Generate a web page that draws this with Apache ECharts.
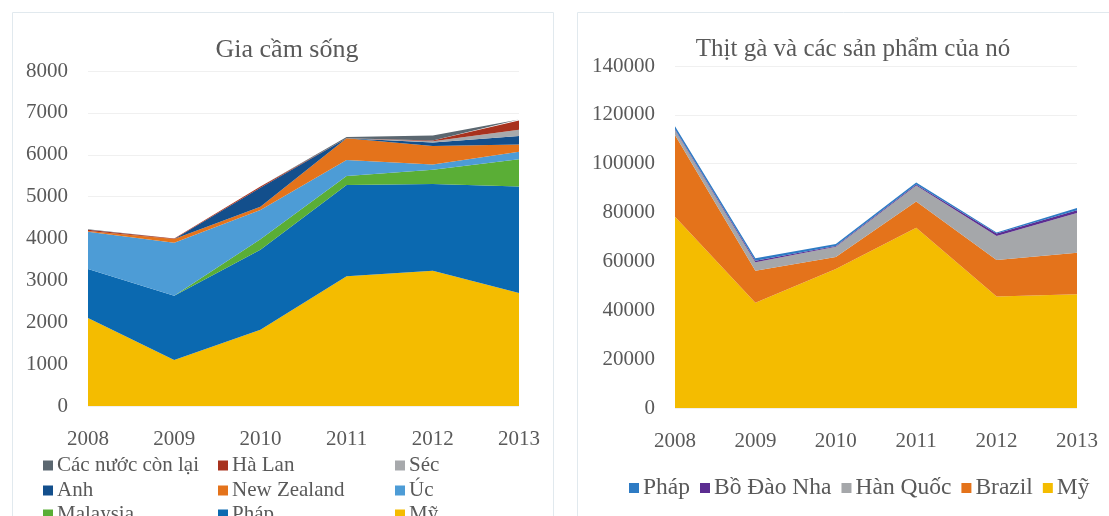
<!DOCTYPE html>
<html>
<head>
<meta charset="utf-8">
<script src="https://cdn.jsdelivr.net/npm/echarts@6.0.0/dist/echarts.min.js"></script>
<style>
  html, body { margin: 0; padding: 0; background: #fff; }
  #chart { width: 1109px; height: 516px; }
</style>
</head>
<body>
<div id="chart"></div>
<script>
// years on both charts
const years = ['2008', '2009', '2010', '2011', '2012', '2013'];

// Gia cầm sống (stacked bottom -> top)
const my1 = [2100, 1100, 1820, 3100, 3230, 2700];
const phap1 = [1170, 1535, 1910, 2180, 2070, 2540];
const malaysia = [0, 0, 250, 215, 340, 650];
const uc = [890, 1265, 700, 380, 130, 180];
const newZealand = [20, 90, 80, 520, 440, 175];
const anh = [0, 0, 450, 0, 80, 205];
const sec = [0, 0, 0, 0, 30, 150];
const haLan = [30, 10, 30, 0, 20, 220];
const conLai = [10, 0, 0, 30, 120, 20];

// Thịt gà và các sản phẩm của nó (stacked bottom -> top)
const my2 = [78300, 43100, 56900, 73800, 45600, 46600];
const brazil = [33500, 13100, 4900, 10700, 15000, 17000];
const hanQuoc = [2000, 3500, 4200, 6600, 9800, 16200];
const boDaoNha = [300, 600, 300, 400, 1000, 1200];
const phap2 = [1200, 1000, 800, 800, 400, 900];

const FONT = '"Liberation Serif", "DejaVu Serif", serif';
const TXT = '#595959';

const C = {
  my: '#F4BC00',
  phap: '#0B69B0',
  malaysia: '#5AAE36',
  uc: '#4D9CD6',
  nz: '#E4731B',
  anh: '#134F8C',
  sec: '#A7A9AC',
  haLan: '#A8321E',
  conLai: '#5B6770',
  brazil: '#E4731B',
  hanQuoc: '#A5A7AA',
  bdn: '#5C2D91',
  phap2: '#2E7BC4',
};

function area(name, data, color, idx, stack) {
  return {
    name, type: 'line', data, stack,
    xAxisIndex: idx, yAxisIndex: idx,
    symbol: 'none',
    lineStyle: { width: 0 },
    areaStyle: { color, opacity: 1 },
    itemStyle: { color },
  };
}

function xAxis(gridIndex) {
  return {
    type: 'category', gridIndex, data: years, boundaryGap: false,
    axisLine: { show: false }, axisTick: { show: false },
    axisLabel: { color: TXT, fontFamily: FONT, fontSize: 21, margin: 23 },
  };
}

function yAxis(gridIndex, max, interval) {
  return {
    type: 'value', gridIndex, min: 0, max, interval,
    axisLine: { show: false }, axisTick: { show: false },
    axisLabel: { color: TXT, fontFamily: FONT, fontSize: 21, margin: 20, formatter: v => String(v) },
    splitLine: { lineStyle: { color: '#f0f0f0' } },
  };
}

// one legend per item so the left block keeps its 3x3 grid
function legendItem(left, top, name, color, fontSize) {
  return {
    left, top, orient: 'horizontal',
    itemWidth: 10, itemHeight: 10, icon: 'rect',
    textStyle: { color: TXT, fontFamily: FONT, fontSize, padding: [0, 0, 0, -1] },
    data: [{ name, itemStyle: { color } }],
  };
}

const leftLegend = [
  ['Các nước còn lại', C.conLai, 38, 450],
  ['Hà Lan', C.haLan, 213, 450],
  ['Séc', C.sec, 390, 450],
  ['Anh', C.anh, 38, 475],
  ['New Zealand', C.nz, 213, 475],
  ['Úc', C.uc, 390, 475],
  ['Malaysia', C.malaysia, 38, 499],
  ['Pháp', C.phap, 213, 499],
  ['Mỹ', C.my, 390, 499],
];

const chart = echarts.init(document.getElementById('chart'));

chart.setOption({
  animation: false,
  graphic: [
    { type: 'rect', shape: { x: 12.5, y: 12.5, width: 541, height: 520 },
      style: { fill: 'none', stroke: '#e1e9ee', lineWidth: 1 }, z: -1 },
    { type: 'rect', shape: { x: 577.5, y: 12.5, width: 540, height: 520 },
      style: { fill: 'none', stroke: '#e1e9ee', lineWidth: 1 }, z: -1 },
  ],
  title: [
    { text: 'Gia cầm sống', left: 282, top: 32, textAlign: 'center',
      textStyle: { color: TXT, fontFamily: FONT, fontSize: 26, fontWeight: 'normal' } },
    { text: 'Thịt gà và các sản phẩm của nó', left: 848, top: 32, textAlign: 'center',
      textStyle: { color: TXT, fontFamily: FONT, fontSize: 25, fontWeight: 'normal' } },
  ],
  grid: [
    { left: 88, right: 590, top: 71, bottom: 110 },
    { left: 675, right: 32, top: 66, bottom: 108 },
  ],
  xAxis: [xAxis(0), xAxis(1)],
  yAxis: [yAxis(0, 8000, 1000), yAxis(1, 140000, 20000)],
  legend: [
    ...leftLegend.map(([n, c, l, t]) => legendItem(l, t, n, c, 21)),
    {
      left: 624, top: 471, orient: 'horizontal',
      itemWidth: 10, itemHeight: 10, itemGap: 10, icon: 'rect',
      textStyle: { color: TXT, fontFamily: FONT, fontSize: 23.5, padding: [0, 0, 0, -1] },
      data: [['Pháp', C.phap2], ['Bồ Đào Nha', C.bdn], ['Hàn Quốc', C.hanQuoc],
        ['Brazil', C.brazil], ['Mỹ', C.my]].map(([name, color]) => ({ name, itemStyle: { color } })),
    },
  ],
  series: [
    area('Mỹ', my1, C.my, 0, 'a'),
    area('Pháp', phap1, C.phap, 0, 'a'),
    area('Malaysia', malaysia, C.malaysia, 0, 'a'),
    area('Úc', uc, C.uc, 0, 'a'),
    area('New Zealand', newZealand, C.nz, 0, 'a'),
    area('Anh', anh, C.anh, 0, 'a'),
    area('Séc', sec, C.sec, 0, 'a'),
    area('Hà Lan', haLan, C.haLan, 0, 'a'),
    area('Các nước còn lại', conLai, C.conLai, 0, 'a'),

    area('Mỹ', my2, C.my, 1, 'b'),
    area('Brazil', brazil, C.brazil, 1, 'b'),
    area('Hàn Quốc', hanQuoc, C.hanQuoc, 1, 'b'),
    area('Bồ Đào Nha', boDaoNha, C.bdn, 1, 'b'),
    area('Pháp', phap2, C.phap2, 1, 'b'),
  ],
});
</script>
</body>
</html>
